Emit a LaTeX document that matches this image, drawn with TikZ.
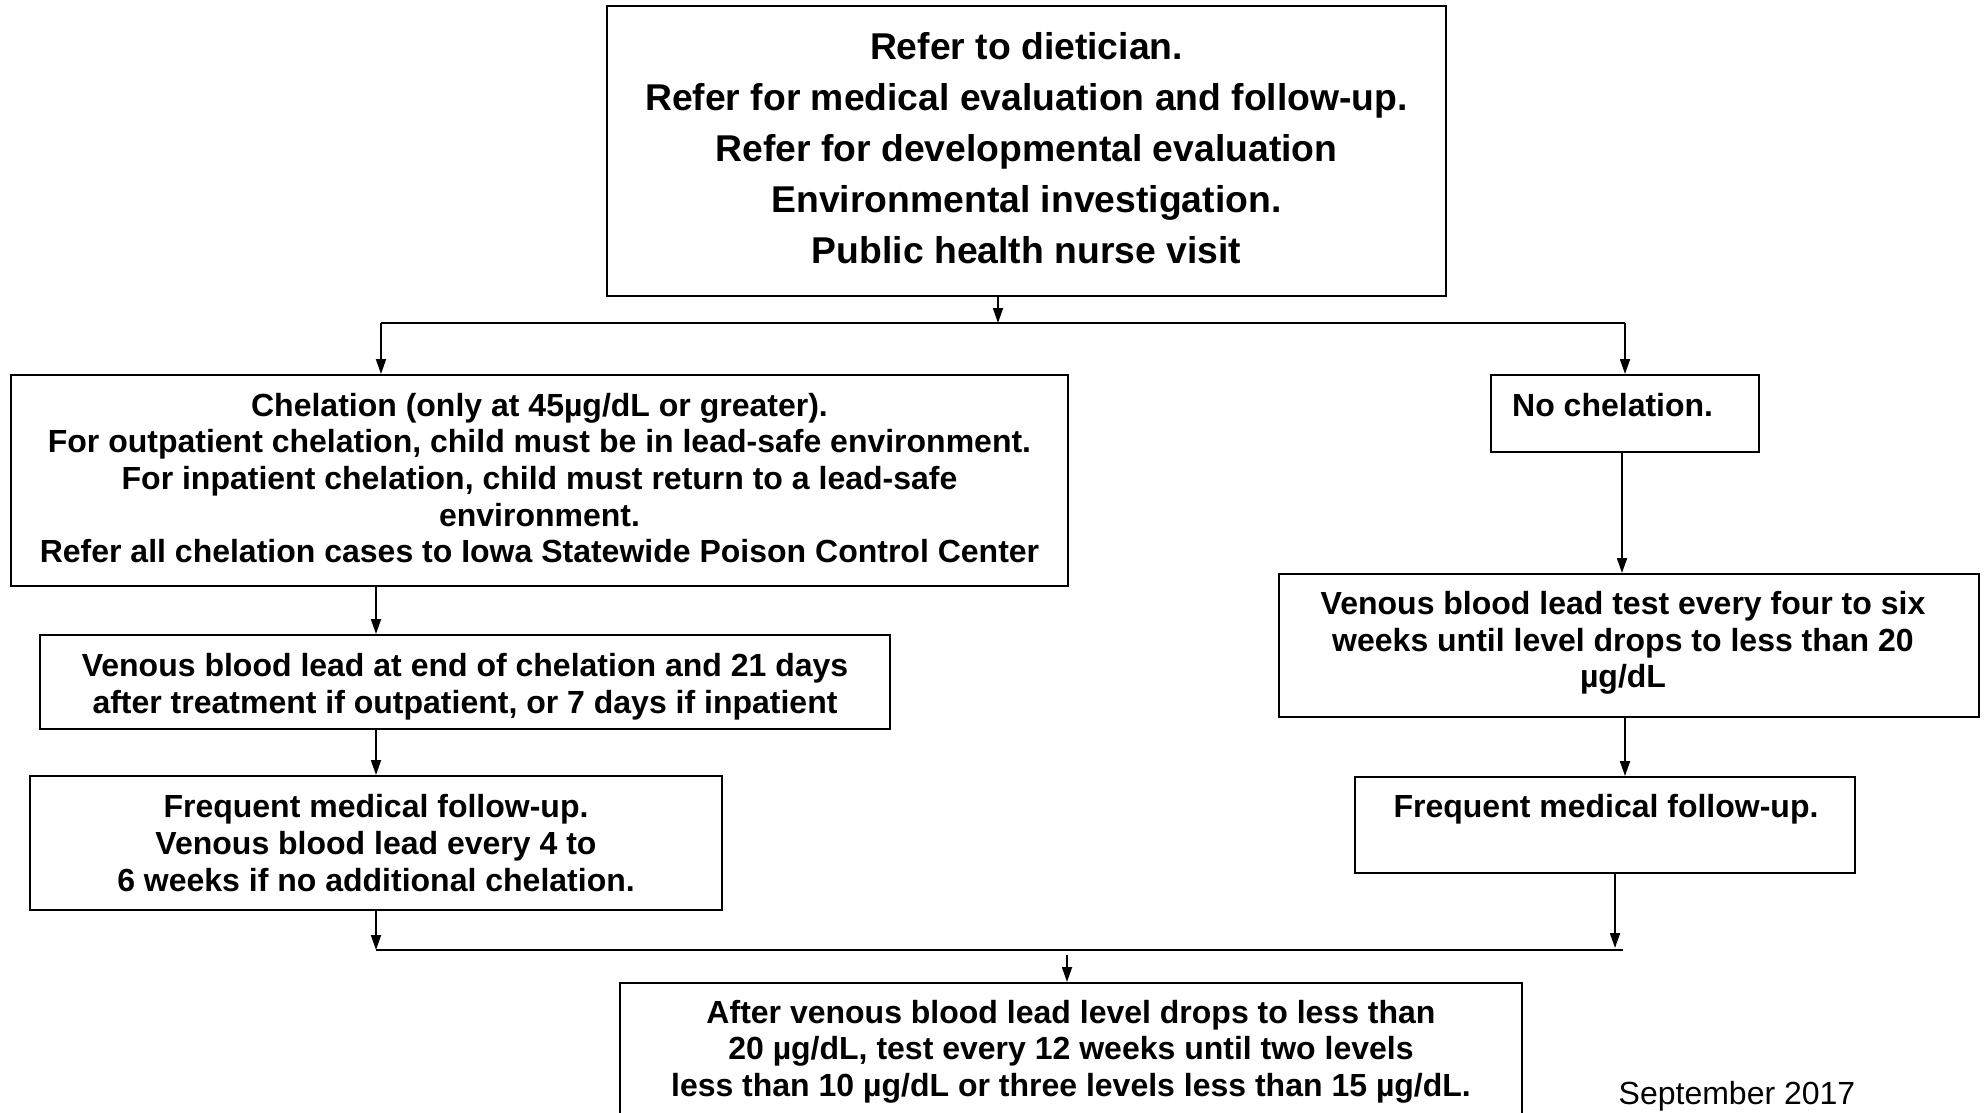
\documentclass[tikz,border=0pt]{standalone}
\usepackage{fontspec}
\setmainfont{Liberation Sans}
\usetikzlibrary{arrows.meta}
\begin{document}
\begin{tikzpicture}[x=1pt,y=-1pt,
  box/.style={draw=black, line width=2pt, rectangle, inner sep=0pt, align=center, font=\bfseries\fontsize{32}{36.7}\selectfont},
  txt/.style={inner sep=0pt, align=center, font=\bfseries\fontsize{32}{36.7}\selectfont},
  conn/.style={line width=1.8pt},
  arr/.style={conn, -{Triangle[length=15pt,width=10pt]}}]
\path[use as bounding box, clip] (0,0) rectangle (1984,1112);
\fill[white] (0,0) rectangle (1984,1112);

\node[box, minimum width=839pt, minimum height=290pt] (top) at (1026.5,151) {};
\node[txt, font=\bfseries\fontsize{37.3}{51}\selectfont] (toptxt) at (1026.5,148.5)
  {Refer to dietician.\\Refer for medical evaluation and follow-up.\\Refer for developmental evaluation\\Environmental investigation.\\Public health nurse visit};

\node[box, minimum width=1057pt, minimum height=211pt] (chel) at (539.5,480.5) {};
\node[txt] (cheltxt) at (539.5,478)
  {Chelation (only at 45µg/dL or greater).\\For outpatient chelation, child must be in lead-safe environment.\\For inpatient chelation, child must return to a lead-safe\\environment.\\Refer all chelation cases to Iowa Statewide Poison Control Center};

\node[box, minimum width=850pt, minimum height=94pt] (ven1) at (465,682) {};
\node[txt] (ven1txt) at (465,687)
  {Venous blood lead at end of chelation and 21 days\\after treatment if outpatient, or 7 days if inpatient};

\node[box, minimum width=692pt, minimum height=134pt] (freq1) at (376,843)
  {Frequent medical follow-up.\\Venous blood lead every 4 to\\6 weeks if no additional chelation.};

\node[box, minimum width=268pt, minimum height=77pt] (noch) at (1625,413.5) {};
\node[txt, anchor=west] (nochtxt) at (1512,405) {No chelation.};

\node[box, minimum width=700pt, minimum height=143pt] (ven2) at (1629,645.5) {};
\node[txt] (ven2txt) at (1623,643)
  {Venous blood lead test every four to six\\weeks until level drops to less than 20\\µg/dL};

\node[box, minimum width=500pt, minimum height=96pt] (freq2) at (1605,825) {};
\node[txt] (freq2txt) at (1606,809) {Frequent medical follow-up.};

\node[box, minimum width=902pt, minimum height=137pt] (bot) at (1071,1051.5)
  {After venous blood lead level drops to less than\\20 µg/dL, test every 12 weeks until two levels\\less than 10 µg/dL or three levels less than 15 µg/dL.};

\node[inner sep=0pt, font=\fontsize{32}{36.7}\selectfont] (date) at (1737,1096) {September 2017};

\coordinate (j1) at (998,323);
\coordinate (sl) at (381,323);
\coordinate (sr) at (1625,323);
\draw[arr] (top.south -| j1) -- (j1);
\draw[conn] (sl) -- (sr);
\draw[arr] (sl) -- (chel.north -| sl);
\draw[arr] (sr) -- (noch.north -| sr);

\coordinate (lx) at (376,0);
\draw[arr] (chel.south -| lx) -- (ven1.north -| lx);
\draw[arr] (ven1.south -| lx) -- (freq1.north -| lx);

\coordinate (ml) at (376,950);
\coordinate (mr) at (1623,950);
\draw[conn] (ml) -- (mr);
\draw[arr] (freq1.south -| ml) -- (ml);

\coordinate (rx) at (1622,0);
\draw[arr] (noch.south -| rx) -- (ven2.north -| rx);
\coordinate (rx2) at (1625,0);
\draw[arr] (ven2.south -| rx2) -- (freq2.north -| rx2);
\coordinate (rm) at (1615,948);
\draw[arr] (freq2.south -| rm) -- (rm);

\coordinate (mj) at (1067,955);
\draw[arr] (mj) -- (bot.north -| mj);
\end{tikzpicture}
\end{document}
